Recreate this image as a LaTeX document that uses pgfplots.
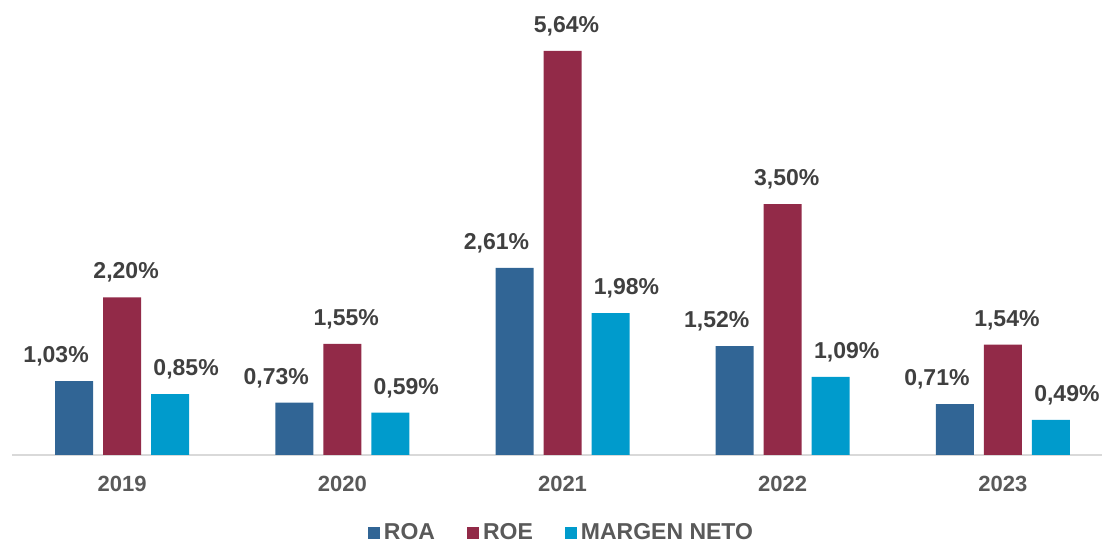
\documentclass[border=0pt]{standalone}
\usepackage{fontspec}
\setmainfont{Liberation Sans}
\usepackage{pgfplots}
\pgfplotsset{compat=1.18}
\definecolor{roablue}{RGB}{49,101,149}
\definecolor{roered}{RGB}{146,42,72}
\definecolor{mncyan}{RGB}{0,155,204}
\definecolor{labelgray}{RGB}{64,64,64}
\definecolor{tickgray}{RGB}{89,89,89}

\begin{document}
\begin{tikzpicture}
\begin{axis}[
    name=ax,
    scale only axis,
    width=550.5pt,
    height=227.5pt,
    ybar,
    bar width=19pt,
    xmin=-0.5, xmax=4.5,
    ymin=0, ymax=6.35,
    xtick={0,1,2,3,4},
    xticklabels={\textbf{2019},\textbf{2020},\textbf{2021},\textbf{2022},\textbf{2023}},
    axis x line*=bottom,
    axis y line=none,
    x axis line style={draw=gray!30, line width=1pt},
    major tick length=0pt,
    xticklabel style={font=\fontsize{11}{13}\selectfont\bfseries, text=tickgray, yshift=-7pt},
    clip=false,
    nodes near coords={\pgfmathprintnumber[fixed,fixed zerofill,precision=2,use comma,assume math mode=true]{\pgfplotspointmeta}\%},
    every node near coord/.append style={font=\fontsize{11.5}{13}\selectfont\bfseries, text=labelgray, yshift=4pt},
    legend style={at={(axis description cs:0.5,0)}, anchor=center, yshift=-39pt,
        draw=none, fill=none, legend columns=-1,
        font=\fontsize{11.5}{13}\selectfont\bfseries, text=tickgray,
        /tikz/every even column/.append style={column sep=14pt}},
    legend image code/.code={\fill[#1] (0pt,-3pt) rectangle (6pt,3pt);},
]
\addplot[fill=roablue, draw=none, bar shift=-24pt,
    every node near coord/.append style={xshift=-9pt}]
    coordinates {(0,1.03) (1,0.73) (2,2.61) (3,1.52) (4,0.71)};
\addplot[fill=roered, draw=none, bar shift=0pt,
    every node near coord/.append style={xshift=2pt}]
    coordinates {(0,2.20) (1,1.55) (2,5.64) (3,3.50) (4,1.54)};
\addplot[fill=mncyan, draw=none, bar shift=24pt,
    every node near coord/.append style={xshift=8pt}]
    coordinates {(0,0.85) (1,0.59) (2,1.98) (3,1.09) (4,0.49)};
\legend{ROA, ROE, MARGEN NETO}
\end{axis}
\pgfresetboundingbox
\useasboundingbox ([xshift=-6pt, yshift=-44pt]ax.south west) rectangle ([xshift=-5.5pt]ax.north east);
\end{tikzpicture}
\end{document}
